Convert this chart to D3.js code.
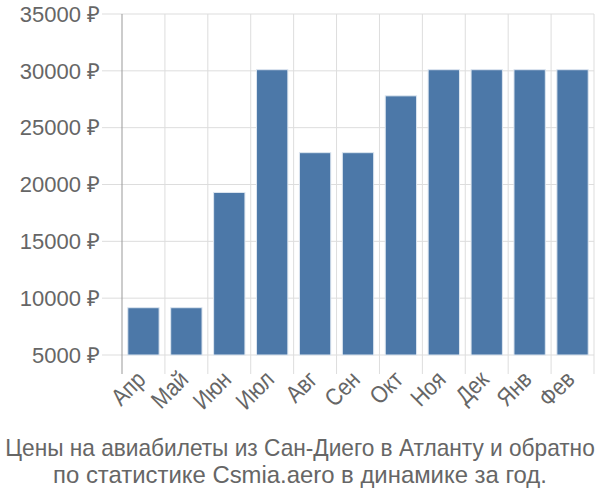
<!DOCTYPE html>
<html><head><meta charset="utf-8">
<script src="https://cdn.jsdelivr.net/npm/d3@7"></script>
<style>body{margin:0;background:#fff}svg{display:block}</style>
</head><body><svg id="c" width="600" height="500"></svg>
<script>
const months = ["Апр","Май","Июн","Июл","Авг","Сен","Окт","Ноя","Дек","Янв","Фев"];
const prices = [9160, 9160, 19300, 30100, 22800, 22800, 27800, 30100, 30100, 30100, 30100];
const yTicks = [5000, 10000, 15000, 20000, 25000, 30000, 35000];
const titleLines = ["Цены на авиабилеты из Сан-Диего в Атланту и обратно","по статистике Csmia.aero в динамике за год."];

(function(){
const svg = d3.select("#c");
const font = "'Liberation Sans', Arial, sans-serif";
const pl = 122, pr = 594, pt = 14, pb = 355;
const x = d3.scaleBand().domain(months).range([pl, pr]).paddingInner(0.27).paddingOuter(0.135);
const y = d3.scaleLinear().domain([5000, 35000]).range([pb, pt]);
const step = x.step();

svg.append("g").selectAll("line").data(yTicks).join("line")
  .attr("x1", 102).attr("x2", pr).attr("y1", d => y(d)).attr("y2", d => y(d))
  .attr("stroke", "#ddd").attr("stroke-width", 1);
const bounds = d3.range(months.length + 1).map(i => pl + i * step);
svg.append("g").selectAll("line").data(bounds.slice(1)).join("line")
  .attr("x1", d => d).attr("x2", d => d).attr("y1", pt).attr("y2", pb + 19)
  .attr("stroke", "#ddd").attr("stroke-width", 1);

svg.append("g").selectAll("rect").data(prices).join("rect")
  .attr("x", (d, i) => x(months[i])).attr("width", x.bandwidth())
  .attr("y", d => y(d)).attr("height", d => y(5000) - y(d))
  .attr("fill", "#4c78a8").attr("stroke", "#dde6f0").attr("stroke-width", 1);

svg.append("line").attr("x1", pl).attr("x2", pl).attr("y1", pt).attr("y2", pb + 19)
  .attr("stroke", "#999").attr("stroke-width", 1);

svg.append("g").selectAll("text").data(yTicks).join("text")
  .attr("x", 100).attr("y", d => y(d)).attr("dy", "0.35em").attr("text-anchor", "end")
  .attr("font-family", font).attr("font-size", 22).attr("fill", "#666")
  .text(d => d + " ₽");

svg.append("g").selectAll("text").data(months).join("text")
  .attr("transform", d => `translate(${x(d) + x.bandwidth()/2 + 3.5},${pb + 26}) rotate(-45) scale(0.87,1)`)
  .attr("text-anchor", "end")
  .attr("font-family", font).attr("font-size", 24).attr("fill", "#666")
  .text(d => d);

const targets = [590, 494];
svg.append("g").selectAll("text").data(titleLines).join("text")
  .attr("text-anchor", "middle")
  .attr("font-family", font).attr("font-size", 24).attr("fill", "#666")
  .text(d => d)
  .each(function(d, i){
    const L = this.getComputedTextLength();
    d3.select(this).attr("transform", `translate(300,${456 + i * 27}) scale(${targets[i] / L},1)`);
  });
})();
</script></body></html>
